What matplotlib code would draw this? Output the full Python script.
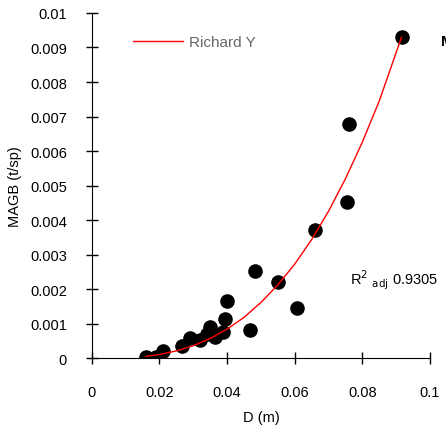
import matplotlib.pyplot as plt

plt.rcParams['font.family'] = ['Liberation Sans', 'DejaVu Sans']
plt.rcParams['font.size'] = 10.5

# observed points
d_obs = [0.0916, 0.0761, 0.0756, 0.0661, 0.0483, 0.0551, 0.0607, 0.0400, 0.0394,
         0.0468, 0.0389, 0.0364, 0.0350, 0.0340, 0.0320, 0.0290, 0.0267, 0.0210,
         0.0190, 0.0160]
magb_obs = [0.00930, 0.00679, 0.00453, 0.00372, 0.00253, 0.00221, 0.00146, 0.00166,
            0.00115, 0.00082, 0.00077, 0.00063, 0.00091, 0.00070, 0.00053, 0.00059,
            0.00036, 0.00022, 0.00004, 0.00005]

# fitted Richards curve
d_fit = [0.016, 0.02, 0.025, 0.03, 0.035, 0.04, 0.045, 0.05, 0.055, 0.06, 0.065,
         0.07, 0.075, 0.08, 0.085, 0.0916]
magb_fit = [0.00006, 0.000115, 0.00022, 0.00037, 0.00058, 0.00085, 0.00119, 0.00162,
            0.00213, 0.00273, 0.00344, 0.00426, 0.00520, 0.00626, 0.00745, 0.0093]

xticks = [0, 0.02, 0.04, 0.06, 0.08, 0.1]
xlabels = ['0', '0.02', '0.04', '0.06', '0.08', '0.1']
yticks = [0, 0.001, 0.002, 0.003, 0.004, 0.005, 0.006, 0.007, 0.008, 0.009, 0.01]
ylabels = ['0', '0.001', '0.002', '0.003', '0.004', '0.005', '0.006', '0.007',
           '0.008', '0.009', '0.01']

fig = plt.figure(figsize=(4.46, 4.35), dpi=100)
ax = fig.add_axes([0.206, 0.1736, 0.758, 0.7944])

ax.plot(d_fit, magb_fit, color='red', lw=1, label='Richard Y', zorder=3)
ax.scatter(d_obs, magb_obs, s=90, color='black', zorder=2)

ax.set_xlim(0, 0.1)
ax.set_ylim(0, 0.01)
ax.set_xticks(xticks)
ax.set_xticklabels(xlabels)
ax.set_yticks(yticks)
ax.set_yticklabels(ylabels)
ax.spines['top'].set_visible(False)
ax.spines['right'].set_visible(False)
ax.tick_params(axis='both', direction='inout', length=8, width=1, labelsize=10.5)
ax.tick_params(axis='x', pad=15)
ax.tick_params(axis='y', pad=14)

ax.set_xlabel('D (m)', labelpad=8)
ax.set_ylabel('MAGB (t/sp)', labelpad=6)

leg = ax.legend(loc='upper left', bbox_to_anchor=(0.08, 0.975), frameon=False,
                handlelength=3.3, handletextpad=0.4, fontsize=11)
for t in leg.get_texts():
    t.set_color('#666666')

ax.text(0.765, 0.215, 'R$^2$ $_{\\mathrm{adj}}$ 0.9305', transform=ax.transAxes, fontsize=10.5)
fig.text(0.988, 0.895, 'M', fontsize=11, fontweight='bold')

fig.savefig('out.png', dpi=100)
